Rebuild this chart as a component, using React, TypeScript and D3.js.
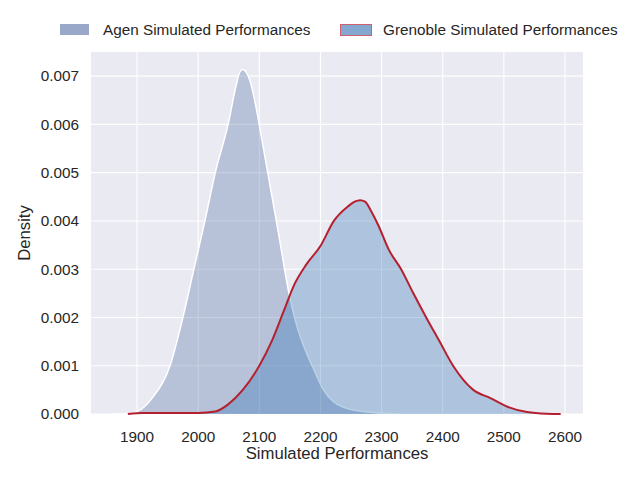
import React from "react";
import * as d3 from "d3";

const agenX = [1861, 1880, 1900, 1926, 1954, 1975, 1993, 2011, 2028, 2049, 2062, 2068, 2073, 2078, 2085, 2094, 2104, 2118, 2132, 2147, 2162, 2176, 2190, 2205, 2221, 2254, 2298, 2330];
const agenY = [0, 0.000005, 0.00005, 0.00035, 0.001, 0.002, 0.003, 0.004, 0.005, 0.006, 0.0068, 0.00708, 0.00714, 0.00709, 0.0069, 0.0064, 0.0057, 0.0047, 0.0037, 0.0026, 0.0018, 0.0013, 0.0009, 0.0005, 0.00026, 0.00008, 0.00002, 0];

const grenX = [1885, 1910, 1960, 2000, 2028, 2049, 2073, 2100, 2120, 2139, 2158, 2177, 2200, 2222, 2245, 2256, 2265, 2273, 2283, 2295, 2312, 2332, 2352, 2373, 2395, 2417, 2450, 2478, 2506, 2538, 2570, 2593];
const grenY = [0, 0.00002, 0.00002, 0.00002, 0.00005, 0.0002, 0.0005, 0.001, 0.0015, 0.0021, 0.0027, 0.0031, 0.00348, 0.004, 0.0043, 0.0044, 0.00443, 0.0044, 0.0042, 0.0039, 0.0034, 0.003, 0.0025, 0.002, 0.0015, 0.001, 0.0005, 0.00033, 0.00015, 0.00004, 0.000005, 0];

const xTicks = [1900, 2000, 2100, 2200, 2300, 2400, 2500, 2600];
const yTicks = [0, 0.001, 0.002, 0.003, 0.004, 0.005, 0.006, 0.007];
const seriesNames = ["Agen Simulated Performances", "Grenoble Simulated Performances"];

const W = 640, H = 480;
const left = 91, right = 583, top = 52, bottom = 414;
const font = "'Liberation Sans', Arial, sans-serif";

export default function App() {
  const x = d3.scaleLinear().domain([1824.7, 2629.5]).range([left, right]);
  const y = d3.scaleLinear().domain([0, 0.0075]).range([bottom, top]);

  const agen = agenX.map((v, i) => [v, agenY[i]] as [number, number]);
  const gren = grenX.map((v, i) => [v, grenY[i]] as [number, number]);

  const area = d3.area<[number, number]>().x(d => x(d[0])).y0(y(0)).y1(d => y(d[1])).curve(d3.curveMonotoneX);
  const line = d3.line<[number, number]>().x(d => x(d[0])).y(d => y(d[1])).curve(d3.curveMonotoneX);

  return (
    <svg width={W} height={H} style={{ display: "block", position: "absolute", left: 0, top: 0 }} fontFamily={font}>
      <rect x={0} y={0} width={W} height={H} fill="#ffffff" />
      <rect x={left} y={top} width={right - left} height={bottom - top} fill="#eaeaf2" />
      {xTicks.map(t => (
        <line key={"gx" + t} x1={x(t)} x2={x(t)} y1={top} y2={bottom} stroke="#ffffff" strokeWidth={1.1} />
      ))}
      {yTicks.map(t => (
        <line key={"gy" + t} x1={left} x2={right} y1={y(t)} y2={y(t)} stroke="#ffffff" strokeWidth={1.1} />
      ))}
      <path d={area(agen) || ""} fill="rgb(67,101,155)" fillOpacity={0.3} />
      <path d={line(agen) || ""} fill="none" stroke="#ffffff" strokeWidth={1.5} />
      <path d={area(gren) || ""} fill="rgb(34,107,175)" fillOpacity={0.3} />
      <path d={line(gren) || ""} fill="none" stroke="#b5202e" strokeWidth={2} />
      {xTicks.map(t => (
        <text key={"tx" + t} x={x(t)} y={442} fontSize={15.3} textAnchor="middle" fill="#262626">{t}</text>
      ))}
      {yTicks.map(t => (
        <text key={"ty" + t} x={79} y={y(t)} dy="0.35em" fontSize={15.3} textAnchor="end" fill="#262626">{t.toFixed(3)}</text>
      ))}
      <text x={(left + right) / 2} y={459} fontSize={16.7} textAnchor="middle" fill="#262626">Simulated Performances</text>
      <text transform={`translate(30,${(top + bottom) / 2}) rotate(-90)`} fontSize={16.7} textAnchor="middle" fill="#262626">Density</text>
      <rect x={60} y={24} width={29} height={11} fill="rgb(153,168,200)" />
      <text x={103} y={30} dy="0.35em" fontSize={15.3} fill="#262626">{seriesNames[0]}</text>
      <rect x={340.5} y={24.5} width={31} height={11} fill="rgb(133,168,208)" stroke="#d06070" strokeWidth={1} />
      <text x={383} y={30} dy="0.35em" fontSize={15.3} fill="#262626">{seriesNames[1]}</text>
    </svg>
  );
}
